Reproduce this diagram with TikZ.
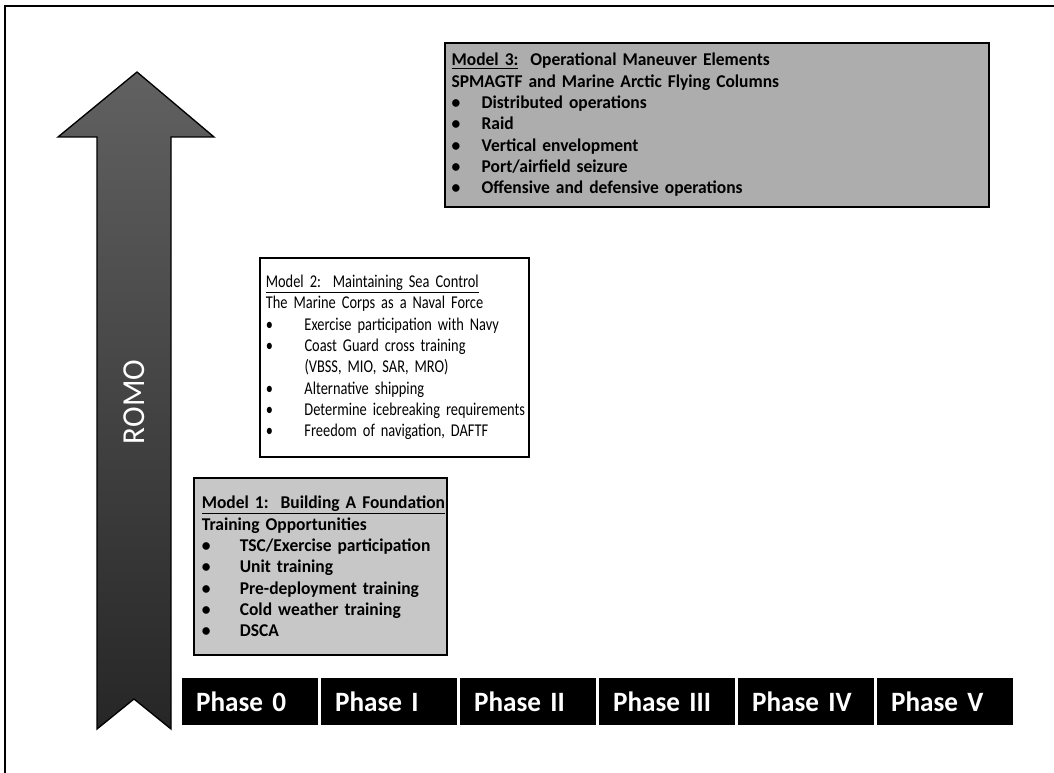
\documentclass[tikz,border=0pt]{standalone}
\usepackage{fontspec}
\setmainfont{Carlito}[WordSpace=0.5, FakeStretch=0.97]
\newfontfamily\condfont{Carlito}[WordSpace=0.4, FakeStretch=0.8]
\newcommand{\bul}[2]{\mbox{\makebox[#1][l]{\textbullet}#2}}

\begin{document}
\begin{tikzpicture}[x=0.75pt,y=-0.75pt]
\useasboundingbox (0,0) rectangle (1054,773);
\draw[line width=1pt] (5,773) -- (5,6) -- (1054,6);

\tikzstyle{model}=[draw=black, line width=1.3pt, align=left, font=\fontsize{13.5}{16}\selectfont]
\tikzstyle{phase}=[fill=black, text=white, align=left, inner xsep=11pt, text width=80pt,
                   minimum height=35pt, font=\bfseries\fontsize{21}{21}\selectfont]

% ROMO arrow
\shade[top color=black!62, middle color=black!14, bottom color=black!85, draw=black, line width=1pt]
  (137,72) -- (214,137) -- (171,137) -- (171,729) -- (134,699) -- (97,729) -- (97,137) -- (58,137) -- cycle;
\node[text=white, rotate=90, font=\fontsize{24}{24}\selectfont] (romo) at (134,402) {ROMO};

\node[model, fill=black!32, font=\bfseries\fontsize{13.5}{16}\selectfont, inner sep=5pt,
      minimum width=408pt, minimum height=123pt, text width=398pt] (model3) at (717,125)
  {\underline{Model 3:}\ \ Operational Maneuver Elements\\
   SPMAGTF and Marine Arctic Flying Columns\\
   \bul{22.5pt}{Distributed operations}\\
   \bul{22.5pt}{Raid}\\
   \bul{22.5pt}{Vertical envelopment}\\
   \bul{22.5pt}{Port/airfield seizure}\\
   \bul{22.5pt}{Offensive and defensive operations}};

\node[model, fill=white, inner sep=4.5pt, font=\condfont\fontsize{13.5}{16}\selectfont,
      minimum width=202pt, minimum height=149pt, text width=193pt] (model2) at (394.5,357.5)
  {\underline{Model 2:\ \ Maintaining Sea Control}\\
   The Marine Corps as a Naval Force\\
   \bul{29pt}{Exercise participation with Navy}\\
   \bul{29pt}{Coast Guard cross training}\\
   \hspace*{29pt}(VBSS, MIO, SAR, MRO)\\
   \bul{29pt}{Alternative shipping}\\
   \bul{29pt}{Determine icebreaking requirements}\\
   \bul{29pt}{Freedom of navigation, DAFTF}};

\node[model, fill=black!22, font=\bfseries\fontsize{13.5}{16}\selectfont, inner sep=6pt,
      minimum width=190pt, minimum height=133pt, text width=178pt] (model1) at (320.5,566.5)
  {\underline{Model 1:\ \ Building A Foundation}\\
   Training Opportunities\\
   \bul{28.5pt}{TSC/Exercise participation}\\
   \bul{28.5pt}{Unit training}\\
   \bul{28.5pt}{Pre-deployment training}\\
   \bul{28.5pt}{Cold weather training}\\
   \bul{28.5pt}{DSCA}};

\node[phase] (ph0) at (249.5,701.5) {Phase 0};
\node[phase] (ph1) at (388.5,701.5) {Phase I};
\node[phase] (ph2) at (527.5,701.5) {Phase II};
\node[phase] (ph3) at (666.5,701.5) {Phase III};
\node[phase] (ph4) at (805.5,701.5) {Phase IV};
\node[phase] (ph5) at (944.5,701.5) {Phase V};

\end{tikzpicture}
\end{document}
